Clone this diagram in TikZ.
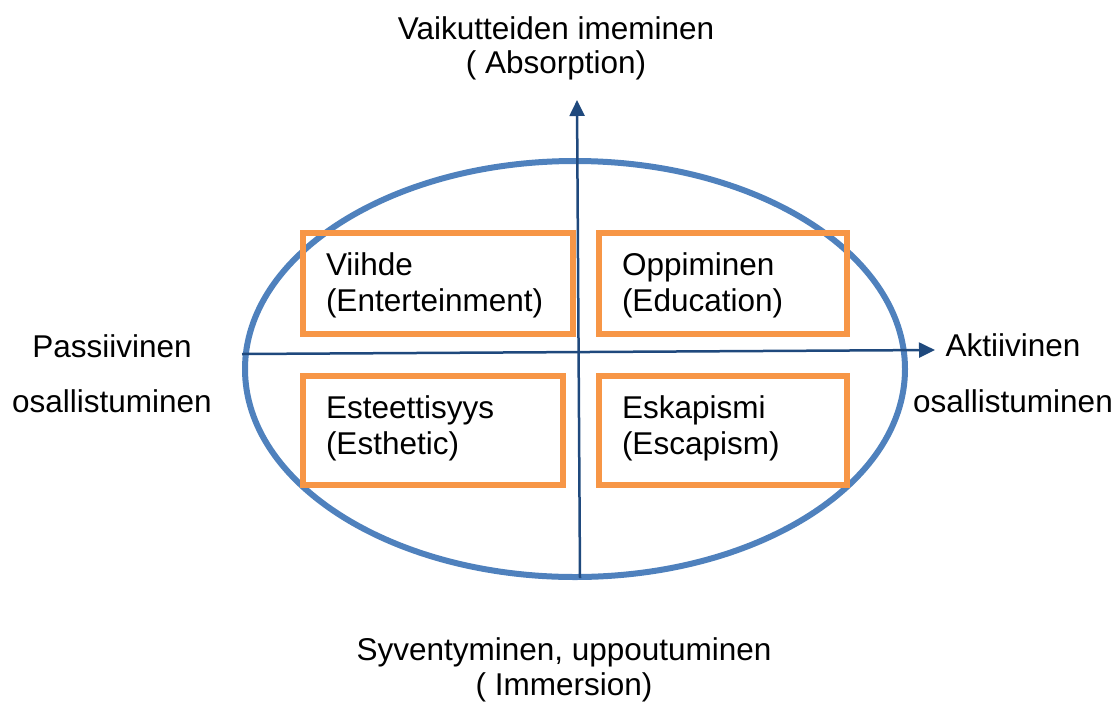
\documentclass[tikz,border=0pt]{standalone}
\usepackage{fontspec}
\setmainfont{Liberation Sans}
\usetikzlibrary{arrows.meta}
\definecolor{ringblue}{HTML}{4F81BD}
\definecolor{axisblue}{HTML}{1F497D}
\definecolor{boxorange}{HTML}{F79646}

\begin{document}
\begin{tikzpicture}[x=1pt,y=-1pt,
  every node/.style={inner sep=0pt, outer sep=0pt},
  label/.style={font=\fontsize{31.5}{34}\selectfont, align=center, anchor=base},
  quad/.style={draw=boxorange, line width=6pt, rectangle, anchor=north west},
  quadtext/.style={font=\fontsize{31.5}{36}\selectfont, align=left, anchor=base west},
  axis/.style={draw=axisblue, line width=2.5pt, -{Triangle[length=16pt,width=15pt]}}]
\useasboundingbox (0,0) rectangle (1119,702);

% the ring
\draw[ringblue, line width=6pt] (575,369) ellipse [x radius=330pt, y radius=208pt];

% four experience fields
\node[quad, minimum width=270pt, minimum height=101pt] (viihde) at (302.5,232.5) {};
\node[quad, minimum width=248pt, minimum height=101pt] (oppiminen) at (598.5,232.5) {};
\node[quad, minimum width=260pt, minimum height=109pt] (esteettisyys) at (302.5,375.5) {};
\node[quad, minimum width=248pt, minimum height=109pt] (eskapismi) at (598.5,375.5) {};

% field names (anchored at the baseline of the second line)
\node[quadtext] (t1) at (326,311) {Viihde\\(Enterteinment)};
\node[quadtext] (t2) at (622,311) {Oppiminen\\(Education)};
\node[quadtext] (t3) at (326,454) {Esteettisyys\\(Esthetic)};
\node[quadtext] (t4) at (622,454) {Eskapismi\\(Escapism)};

% axes
\coordinate (vbot) at (580,578);
\coordinate (vtop) at (577,100);
\coordinate (hleft) at (242,354);
\coordinate (hright) at (935,350);
\draw[axis] (vbot) -- (vtop);
\draw[axis] (hleft) -- (hright);

% axis labels
\node[label] (absorp) at (556,73) {Vaikutteiden imeminen\\( Absorption)};
\node[label, font=\fontsize{31.5}{55}\selectfont] (passive) at (112,412) {Passiivinen\\osallistuminen};
\node[label, font=\fontsize{31.5}{56}\selectfont] (active) at (1013,412) {Aktiivinen\\osallistuminen};
\node[label, font=\fontsize{31.5}{35}\selectfont] (immers) at (564,695) {Syventyminen, uppoutuminen\\( Immersion)};
\end{tikzpicture}
\end{document}
